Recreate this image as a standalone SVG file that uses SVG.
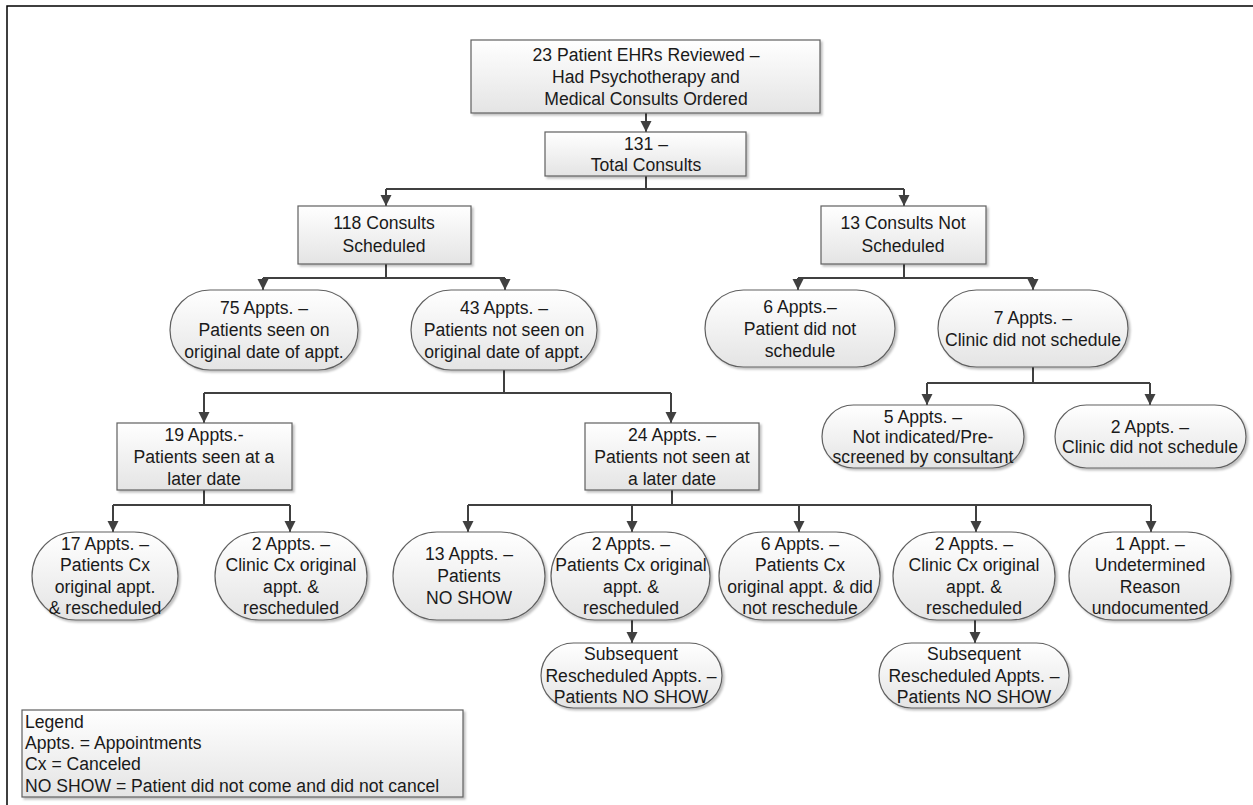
<svg xmlns="http://www.w3.org/2000/svg" width="1253" height="805" viewBox="0 0 1253 805">
<defs>
<linearGradient id="g" x1="0" y1="0" x2="0" y2="1">
<stop offset="0" stop-color="#ffffff"/>
<stop offset="1" stop-color="#e4e4e4"/>
</linearGradient>
<filter id="sh" x="-10%" y="-10%" width="125%" height="130%">
<feDropShadow dx="2" dy="2" stdDeviation="1.2" flood-color="#000" flood-opacity="0.25"/>
</filter>
<marker id="ah" markerUnits="userSpaceOnUse" markerWidth="12" markerHeight="12" refX="11" refY="6" orient="auto">
<path d="M0,0.5 L11,6 L0,11.5 Z" fill="#404040"/>
</marker>
</defs>
<style>
.n{fill:url(#g);stroke:#606060;stroke-width:1.2;filter:url(#sh)}
.t{font-family:"Liberation Sans",Arial,sans-serif;font-size:17.6px;fill:#1a1a1a;text-anchor:middle}
.l{font-family:"Liberation Sans",Arial,sans-serif;font-size:17.6px;fill:#1a1a1a}
.c{fill:none;stroke:#404040;stroke-width:2}
.a{marker-end:url(#ah)}
</style>
<rect width="1253" height="805" fill="#fff"/>
<path d="M7,805 V6 H1253" fill="none" stroke="#000" stroke-width="1.5"/>

<g id="connectors">
<path class="c a" d="M646,113 V132"/>
<path class="c" d="M646,176 V189 M386,189 H904"/>
<path class="c a" d="M386,189 V206"/>
<path class="c a" d="M904,189 V206"/>
<path class="c" d="M386,264 V278 M263,278 H505"/>
<path class="c a" d="M263,278 V290"/>
<path class="c a" d="M505,278 V290"/>
<path class="c" d="M904,264 V278 M798,278 H1033"/>
<path class="c a" d="M798,278 V290"/>
<path class="c a" d="M1033,278 V290"/>
<path class="c" d="M504,370 V393 M204,393 H671"/>
<path class="c a" d="M204,393 V423"/>
<path class="c a" d="M671,393 V423"/>
<path class="c" d="M1033,367 V383 M927,383 H1150"/>
<path class="c a" d="M927,383 V405"/>
<path class="c a" d="M1150,383 V405"/>
<path class="c" d="M204,490 V505 M113,505 H290"/>
<path class="c a" d="M113,505 V532"/>
<path class="c a" d="M290,505 V532"/>
<path class="c" d="M672,490 V505 M468,505 H1151"/>
<path class="c a" d="M468,505 V532"/>
<path class="c a" d="M632,505 V532"/>
<path class="c a" d="M799,505 V532"/>
<path class="c a" d="M976,505 V532"/>
<path class="c a" d="M1151,505 V532"/>
<path class="c a" d="M632,620 V643"/>
<path class="c a" d="M975,620 V643"/>
</g>

<g id="n-ehr"><rect class="n" x="471" y="40" width="349" height="73"/>
<text class="t" x="646" y="61">23 Patient EHRs Reviewed –</text>
<text class="t" x="646" y="83">Had Psychotherapy and</text>
<text class="t" x="646" y="105">Medical Consults Ordered</text></g>

<g id="n-total"><rect class="n" x="545" y="132" width="201" height="44"/>
<text class="t" x="646" y="150">131 –</text>
<text class="t" x="646" y="171">Total Consults</text></g>

<g id="n-sched"><rect class="n" x="298" y="206" width="173" height="58"/>
<text class="t" x="384" y="229">118 Consults</text>
<text class="t" x="384" y="252">Scheduled</text></g>

<g id="n-notsched"><rect class="n" x="821" y="206" width="165" height="58"/>
<text class="t" x="903" y="229">13 Consults Not</text>
<text class="t" x="903" y="252">Scheduled</text></g>

<g id="n-75"><rect class="n" x="170" y="290" width="188" height="80" rx="40"/>
<text class="t" x="264" y="314">75 Appts. –</text>
<text class="t" x="264" y="336">Patients seen on</text>
<text class="t" x="264" y="358">original date of appt.</text></g>

<g id="n-43"><rect class="n" x="411" y="290" width="186" height="80" rx="40"/>
<text class="t" x="504" y="314">43 Appts. –</text>
<text class="t" x="504" y="336">Patients not seen on</text>
<text class="t" x="504" y="358">original date of appt.</text></g>

<g id="n-6p"><rect class="n" x="705" y="290" width="190" height="77" rx="38.5"/>
<text class="t" x="800" y="313">6 Appts.–</text>
<text class="t" x="800" y="335">Patient did not</text>
<text class="t" x="800" y="357">schedule</text></g>

<g id="n-7c"><rect class="n" x="938" y="290" width="190" height="77" rx="38.5"/>
<text class="t" x="1033" y="324">7 Appts. –</text>
<text class="t" x="1033" y="346">Clinic did not schedule</text></g>

<g id="n-19"><rect class="n" x="117" y="423" width="175" height="67"/>
<text class="t" x="204" y="441">19 Appts.-</text>
<text class="t" x="204" y="463">Patients seen at a</text>
<text class="t" x="204" y="485">later date</text></g>

<g id="n-24"><rect class="n" x="585" y="423" width="174" height="67"/>
<text class="t" x="672" y="441">24 Appts. –</text>
<text class="t" x="672" y="463">Patients not seen at</text>
<text class="t" x="672" y="485">a later date</text></g>

<g id="n-5"><rect class="n" x="822" y="405" width="202" height="63" rx="31.5"/>
<text class="t" x="923" y="423">5 Appts. –</text>
<text class="t" x="923" y="443">Not indicated/Pre-</text>
<text class="t" x="923" y="463">screened by consultant</text></g>

<g id="n-2c"><rect class="n" x="1055" y="405" width="191" height="63" rx="31.5"/>
<text class="t" x="1150" y="433">2 Appts. –</text>
<text class="t" x="1150" y="453">Clinic did not schedule</text></g>

<g id="n-17"><rect class="n" x="32" y="532" width="146" height="88" rx="44"/>
<text class="t" x="105" y="550">17 Appts. –</text>
<text class="t" x="105" y="571">Patients Cx</text>
<text class="t" x="105" y="593">original appt.</text>
<text class="t" x="105" y="614">&amp; rescheduled</text></g>

<g id="n-2cl"><rect class="n" x="215" y="532" width="152" height="88" rx="44"/>
<text class="t" x="291" y="550">2 Appts. –</text>
<text class="t" x="291" y="571">Clinic Cx original</text>
<text class="t" x="291" y="593">appt. &amp;</text>
<text class="t" x="291" y="614">rescheduled</text></g>

<g id="n-13"><rect class="n" x="393" y="532" width="152" height="88" rx="44"/>
<text class="t" x="469" y="560">13 Appts. –</text>
<text class="t" x="469" y="582">Patients</text>
<text class="t" x="469" y="604">NO SHOW</text></g>

<g id="n-2p"><rect class="n" x="551" y="532" width="159" height="88" rx="44"/>
<text class="t" x="631" y="550">2 Appts. –</text>
<text class="t" x="631" y="571">Patients Cx original</text>
<text class="t" x="631" y="593">appt. &amp;</text>
<text class="t" x="631" y="614">rescheduled</text></g>

<g id="n-6"><rect class="n" x="719" y="532" width="161" height="88" rx="44"/>
<text class="t" x="800" y="550">6 Appts. –</text>
<text class="t" x="800" y="571">Patients Cx</text>
<text class="t" x="800" y="593">original appt. &amp; did</text>
<text class="t" x="800" y="614">not reschedule</text></g>

<g id="n-2cc"><rect class="n" x="893" y="532" width="162" height="88" rx="44"/>
<text class="t" x="974" y="550">2 Appts. –</text>
<text class="t" x="974" y="571">Clinic Cx original</text>
<text class="t" x="974" y="593">appt. &amp;</text>
<text class="t" x="974" y="614">rescheduled</text></g>

<g id="n-1"><rect class="n" x="1069" y="532" width="162" height="88" rx="44"/>
<text class="t" x="1150" y="550">1 Appt. –</text>
<text class="t" x="1150" y="571">Undetermined</text>
<text class="t" x="1150" y="593">Reason</text>
<text class="t" x="1150" y="614">undocumented</text></g>

<g id="n-sub1"><rect class="n" x="541" y="643" width="181" height="65" rx="32.5"/>
<text class="t" x="631" y="660">Subsequent</text>
<text class="t" x="631" y="682">Rescheduled Appts. –</text>
<text class="t" x="631" y="703">Patients NO SHOW</text></g>

<g id="n-sub2"><rect class="n" x="879" y="643" width="190" height="65" rx="32.5"/>
<text class="t" x="974" y="660">Subsequent</text>
<text class="t" x="974" y="682">Rescheduled Appts. –</text>
<text class="t" x="974" y="703">Patients NO SHOW</text></g>

<g id="legend"><rect class="n" x="22" y="710" width="441" height="87"/>
<text class="l" x="25" y="728">Legend</text>
<text class="l" x="25" y="749">Appts. = Appointments</text>
<text class="l" x="25" y="770">Cx = Canceled</text>
<text class="l" x="25" y="792">NO SHOW = Patient did not come and did not cancel</text></g>
</svg>
